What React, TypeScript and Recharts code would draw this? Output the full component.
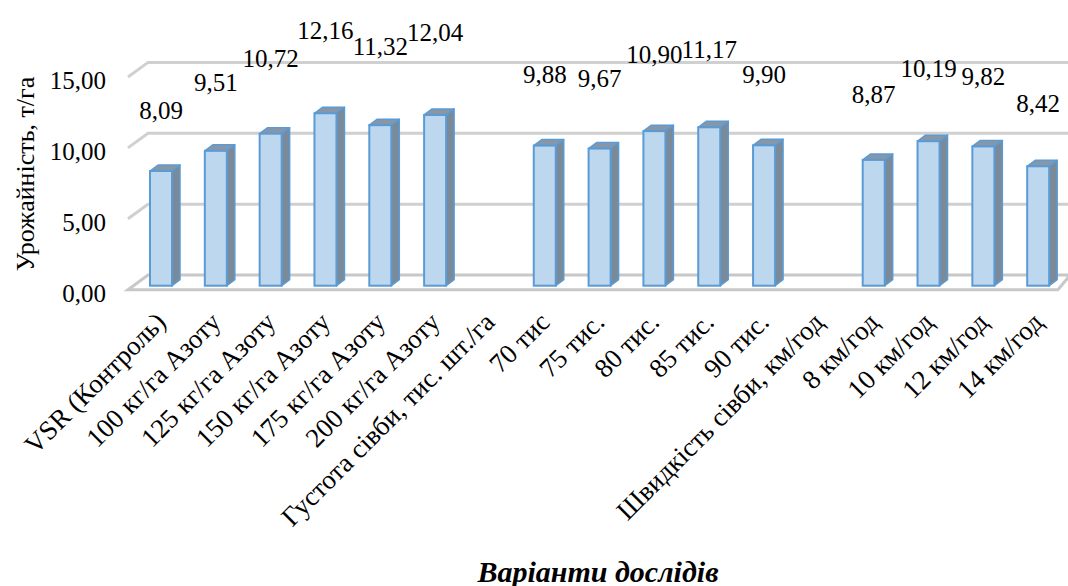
import { BarChart, Bar, XAxis, YAxis, CartesianGrid, LabelList } from 'recharts'

// categories and yields (t/ha); group headers have no bar
const CATEGORIES = [
  'VSR (Контроль)', '100 кг/га Азоту', '125 кг/га Азоту', '150 кг/га Азоту',
  '175 кг/га Азоту', '200 кг/га Азоту', 'Густота сівби, тис. шт./га',
  '70 тис', '75 тис.', '80 тис.', '85 тис.', '90 тис.',
  'Швидкість сівби, км/год', '8 км/год', '10 км/год', '12 км/год', '14 км/год',
]
const YIELDS: (number | null)[] = [
  8.09, 9.51, 10.72, 12.16, 11.32, 12.04, null,
  9.88, 9.67, 10.90, 11.17, 9.90, null,
  8.87, 10.19, 9.82, 8.42,
]
const Y_TICKS = [0, 5, 10, 15]

const data = CATEGORIES.map((name, i) => ({ name, value: YIELDS[i] }))

const FONT = 'Times New Roman'
const FS = 25
const fmt = (v: number) => v.toFixed(2).replace('.', ',')

// fake 3D: back wall offset / bar depth
const WALL_DX = 20
const BAR_DX = 8
const BAR_DY = 6

function GridLine(props: any) {
  const { x1, x2, y1, index } = props
  const back = y1 - 10.6
  const front = y1 + 4
  const left = x1 - 6
  if (Math.abs(y1 - 285.7) < 1) {
    // floor
    return (
      <polygon
        key="floor"
        points={`${left},${front} ${left + WALL_DX},${back} ${x2 + 4},${back} ${x2 - 8},${front}`}
        fill="#fff" stroke="#C8C8C8" strokeWidth={3}
      />
    )
  }
  return (
    <polyline
      key={`g-${index}`}
      points={`${left},${front} ${left + WALL_DX},${back} ${x2 + 4},${back}`}
      fill="none" stroke="#D0D0D0" strokeWidth={3}
    />
  )
}

function Bar3D(props: any) {
  const { x, y, width: w, height: h } = props
  if (h == null || h <= 0) return null
  return (
    <g>
      <polygon
        points={`${x + w},${y} ${x + w + BAR_DX},${y - BAR_DY} ${x + w + BAR_DX},${y + h - BAR_DY} ${x + w},${y + h}`}
        fill="#7B8A99" stroke="#5B9BD5" strokeWidth={1.5} strokeLinejoin="round"
      />
      <polygon
        points={`${x},${y} ${x + BAR_DX},${y - BAR_DY} ${x + w + BAR_DX},${y - BAR_DY} ${x + w},${y}`}
        fill="#8797A8" stroke="#5B9BD5" strokeWidth={1.5} strokeLinejoin="round"
      />
      <rect x={x} y={y} width={w} height={h} fill="#BDD7EE" stroke="#5B9BD5" strokeWidth={2} />
    </g>
  )
}

function ValueLabel(props: any) {
  const { x, y, width, height, value } = props
  if (value == null) return null
  return (
    <text x={x + width / 2} y={y - 8.2 - 0.386 * height} textAnchor="middle"
      style={{ fontFamily: FONT, fontSize: FS }} fill="#000">
      {fmt(Number(value))}
    </text>
  )
}

function YTick(props: any) {
  const { x, y, payload } = props
  return (
    <text x={x} y={y + 7} dy="0.355em" textAnchor="end" style={{ fontFamily: FONT, fontSize: FS }} fill="#000">
      {fmt(payload.value)}
    </text>
  )
}

function XTick(props: any) {
  const { x, y, payload } = props
  const tx = x + 6
  const ty = y + 38
  return (
    <text x={tx} y={ty} textAnchor="end" transform={`rotate(-45 ${tx} ${ty})`}
      style={{ fontFamily: FONT, fontSize: 27 }} fill="#000">
      {payload.value}
    </text>
  )
}

export default function App() {
  return (
    <div style={{ position: 'absolute', left: 0, top: 0, width: 1068, height: 586, background: '#fff', fontFamily: FONT }}>
      <BarChart
        width={1068}
        height={586}
        data={data}
        margin={{ top: 73, right: 2, left: 74, bottom: 20.3 }}
        barSize={22}
      >
        <CartesianGrid vertical={false} horizontal={(p: any) => <GridLine {...p} />} />
        <XAxis
          dataKey="name"
          interval={0}
          axisLine={false}
          tickLine={false}
          tickSize={0}
          tickMargin={0}
          height={280}
          tick={(p: any) => <XTick {...p} />}
        />
        <YAxis
          domain={[0, 15]}
          ticks={Y_TICKS}
          width={60}
          axisLine={false}
          tickLine={false}
          tickSize={0}
          tickMargin={28}
          tick={(p: any) => <YTick {...p} />}
        />
        <Bar dataKey="value" shape={(p: any) => <Bar3D {...p} />} isAnimationActive={false}>
          <LabelList dataKey="value" content={(p: any) => <ValueLabel {...p} />} />
        </Bar>
      </BarChart>
      <div style={{
        position: 'absolute', left: 26, top: 174, transform: 'translate(-50%, -50%) rotate(-90deg)',
        fontFamily: FONT, fontSize: 26, whiteSpace: 'nowrap', color: '#000',
      }}>
        Урожайність, т/га
      </div>
      <div style={{
        position: 'absolute', left: 598, top: 572, transform: 'translate(-50%, -50%)',
        fontFamily: FONT, fontSize: 30, fontWeight: 'bold', fontStyle: 'italic', whiteSpace: 'nowrap', color: '#000',
      }}>
        Варіанти дослідів
      </div>
    </div>
  )
}
